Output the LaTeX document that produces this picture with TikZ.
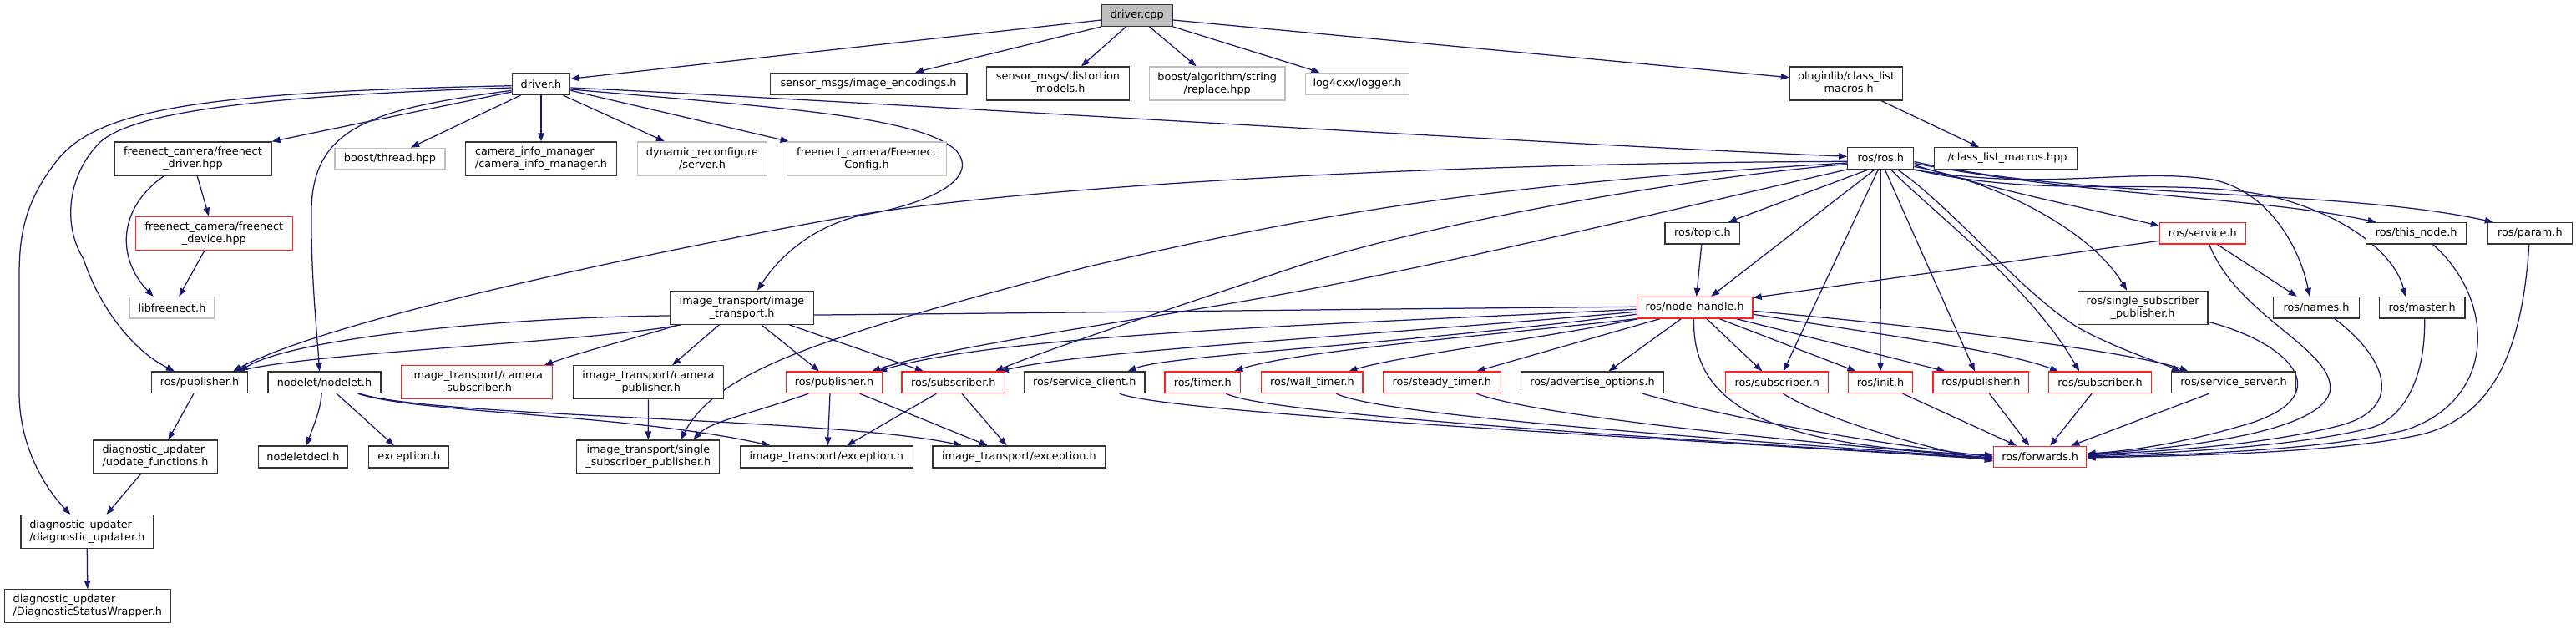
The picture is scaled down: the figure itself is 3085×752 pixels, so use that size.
\documentclass[tikz,border=0pt]{standalone}
\usepackage{fontspec}
\setmainfont{DejaVu Sans}
\usetikzlibrary{arrows.meta}
\definecolor{edgec}{HTML}{191970}
\definecolor{nodeb}{HTML}{333333}
\definecolor{grayb}{HTML}{BFBFBF}
\definecolor{redb}{HTML}{FF2020}
\definecolor{cppfill}{HTML}{BFBFBF}
\newcommand\nfont{\fontsize{12.8pt}{15pt}\selectfont}
\pgfdeclarelayer{bg}
\pgfdeclarelayer{edgelayer}
\pgfsetlayers{bg,edgelayer,main}
\tikzset{
  e/.style={draw=edgec, line width=1.25pt, -{Triangle[length=10pt,width=7.5pt]}},
  nb/.style={draw=nodeb, fill=white, line width=1.3pt, inner sep=0pt, font=\nfont, align=center, minimum height=25.5pt},
  ng/.style={nb, draw=grayb},
  nr/.style={nb, draw=redb},
  dbl/.style={minimum height=40pt},
}
\begin{document}
\begin{tikzpicture}[x=1pt,y=-1pt]
\begin{pgfonlayer}{bg}
\fill[white] (0,0) rectangle (3085,752);
\end{pgfonlayer}
\useasboundingbox (0,0) rectangle (3085,752);
% nodes
\node[nb, fill=cppfill, minimum width=84.7pt, minimum height=26pt] (cpp) at (1361.7,18.3) {driver.cpp};
\node[nb, minimum width=69.4pt] (driverh) at (648,100.7) {driver.h};
\node[nb, minimum width=235.7pt, minimum height=26pt] (enc) at (1040,100.3) {sensor\_msgs/image\_encodings.h};
\node[nb, dbl, minimum width=171pt] (dist) at (1267,100) {sensor\_msgs/distortion\\\_models.h};
\node[ng, dbl, minimum width=162.3pt] (repl) at (1457.7,100) {boost/algorithm/string\\/replace.hpp};
\node[ng, minimum width=124.5pt, minimum height=26pt] (log) at (1625.5,100.3) {log4cxx/logger.h};
\node[nb, dbl, minimum width=135.2pt] (plug) at (2211,100) {pluginlib/class\_list\\\_macros.h};
\node[nb, minimum width=171pt] (clm) at (2402,189.5) {./class\_list\_macros.hpp};
\node[nb, minimum width=79pt] (ros) at (2252.3,189.5) {ros/ros.h};
\node[nb, dbl, minimum width=188pt] (fdrv) at (231,190) {freenect\_camera/freenect\\\_driver.hpp};
\node[ng, minimum width=132pt] (bthr) at (467,190) {boost/thread.hpp};
\node[nb, dbl, align=left, minimum width=181pt] (cim) at (648,190) {camera\_info\_manager\\/camera\_info\_manager.h};
\node[ng, dbl, minimum width=154.6pt] (dyn) at (841,190) {dynamic\_reconfigure\\/server.h};
\node[ng, dbl, minimum width=191.4pt] (fcfg) at (1038,190) {freenect\_camera/Freenect\\Config.h};
\node[nr, dbl, minimum width=188.3pt] (fdev) at (256.4,279.3) {freenect\_camera/freenect\\\_device.hpp};
\node[ng, minimum width=101pt] (libf) at (206,368.3) {libfreenect.h};
\node[nb, minimum width=114.8pt] (pubA) at (239,457.8) {ros/publisher.h};
\node[nb, minimum width=135.2pt] (nodelet) at (388.5,457.8) {nodelet/nodelet.h};
\node[nr, dbl, minimum width=181pt] (csub) at (571,457.8) {image\_transport/camera\\\_subscriber.h};
\node[nb, dbl, minimum width=180.6pt] (cpub) at (776.5,457.8) {image\_transport/camera\\\_publisher.h};
\node[nb, dbl, minimum width=172pt] (itr) at (888.5,368.3) {image\_transport/image\\\_transport.h};
\node[nr, minimum width=115.3pt] (pubB) at (999,457.8) {ros/publisher.h};
\node[nr, minimum width=123.5pt] (subB) at (1141.8,457.8) {ros/subscriber.h};
\node[nb, minimum width=144.4pt] (scli) at (1298.7,457.8) {ros/service\_client.h};
\node[nr, minimum width=90.8pt] (timer) at (1440.3,457.8) {ros/timer.h};
\node[nr, minimum width=121.4pt] (wall) at (1571.4,457.8) {ros/wall\_timer.h};
\node[nr, minimum width=141.3pt] (steady) at (1726.8,457.8) {ros/steady\_timer.h};
\node[nb, minimum width=171pt] (adv) at (1906.9,457.8) {ros/advertise\_options.h};
\node[nr, minimum width=123pt] (subC) at (2128.3,457.8) {ros/subscriber.h};
\node[nr, minimum width=77.5pt] (init) at (2252,457.8) {ros/init.h};
\node[nr, minimum width=114.7pt] (pubC) at (2372.4,457.8) {ros/publisher.h};
\node[nr, minimum width=122.7pt] (subD) at (2515,457.8) {ros/subscriber.h};
\node[nb, minimum width=149.2pt] (ssrv) at (2675,457.8) {ros/service\_server.h};
\node[nb, minimum width=89.8pt] (topic) at (2038.8,279.3) {ros/topic.h};
\node[nr, minimum width=138.8pt] (nh) at (2029.6,368.3) {ros/node\_handle.h};
\node[nr, minimum width=102.7pt] (srv) at (2637.8,279.3) {ros/service.h};
\node[nb, minimum width=119.7pt] (thisn) at (2893.6,279.3) {ros/this\_node.h};
\node[nb, minimum width=100.7pt] (param) at (3029.8,279.3) {ros/param.h};
\node[nb, dbl, minimum width=155.7pt] (rssp) at (2566.1,368.3) {ros/single\_subscriber\\\_publisher.h};
\node[nb, minimum width=102.7pt] (names) at (2774,368.3) {ros/names.h};
\node[nb, minimum width=102.7pt] (master) at (2900.6,368.3) {ros/master.h};
\node[nr, minimum width=111.2pt] (fwd) at (2443.2,547) {ros/forwards.h};
\node[nb, dbl, align=left, minimum width=148.5pt] (updf) at (186,547) {diagnostic\_updater\\/update\_functions.h};
\node[nb, minimum width=107.6pt, minimum height=26pt] (ndecl) at (363,547) {nodeletdecl.h};
\node[nb, minimum width=96pt, minimum height=26pt] (exc) at (489.8,547) {exception.h};
\node[nb, dbl, align=left, minimum width=158.7pt] (dupd) at (104.3,636.5) {diagnostic\_updater\\/diagnostic\_updater.h};
\node[nb, dbl, align=left, minimum width=198.4pt] (dsw) at (104.8,725.8) {diagnostic\_updater\\/DiagnosticStatusWrapper.h};
\node[nb, dbl, minimum width=171pt] (itssp) at (776.3,547) {image\_transport/single\\\_subscriber\_publisher.h};
\node[nb, minimum width=207pt, minimum height=26pt] (iexA) at (989.8,547) {image\_transport/exception.h};
\node[nb, minimum width=207pt, minimum height=26pt] (iexB) at (1220.4,547) {image\_transport/exception.h};

\begin{pgfonlayer}{edgelayer}
% driver.cpp
\draw[e] ([yshift=-5.7pt]cpp.west) -- ([yshift=6.4pt]driverh.east);
\draw[e] (cpp.south west) -- ([xshift=56pt]enc.north);
\draw[e] ([xshift=-13.2pt]cpp.south) -- ([xshift=28pt]dist.north);
\draw[e] ([xshift=14.8pt]cpp.south) -- ([xshift=-25pt]repl.north);
\draw[e] (cpp.south east) -- ([xshift=-45pt]log.north);
\draw[e] ([yshift=-5.7pt]cpp.east) -- ([yshift=7.3pt]plug.west);
\draw[e] ([xshift=42pt]plug.south) -- ([xshift=-32pt]clm.north);
% driver.h
\draw[e] ([yshift=-4.3pt]driverh.east) .. controls (1100,125) and (1800,170) .. ([yshift=2.2pt]ros.west);
\draw[e] ([yshift=-6.3pt]driverh.east) .. controls (950,130) and (1100,140) .. (1145,180) .. controls (1175,215) and (1110,245) .. (1030,258) .. controls (960,275) and (925,320) .. ([xshift=18.5pt]itr.north);
\draw[e] ([yshift=-9.3pt]driverh.west) -- (fdrv.north east);
\draw[e] ([xshift=-24.5pt]driverh.south) -- ([xshift=25pt]bthr.north);
\draw[e] (driverh.south) -- (cim.north);
\draw[e] ([xshift=26.5pt]driverh.south) -- ([xshift=-45pt]dyn.north);
\draw[e] ([yshift=-7.6pt]driverh.east) -- ([xshift=3pt]fcfg.north west);
\draw[e] ([yshift=-4.3pt]driverh.west) .. controls (300,115) and (160,135) .. (120,170) .. controls (80,210) and (75,270) .. (100,310) .. controls (120,370) and (160,420) .. ([xshift=-30pt]pubA.north);
\draw[e] ([yshift=-2pt]driverh.west) .. controls (250,110) and (120,130) .. (70,190) .. controls (30,240) and (23,280) .. (23,330) -- (23,470) .. controls (23,530) and (50,580) .. ([xshift=-20pt]dupd.north);
\draw[e] ([yshift=-7.6pt]driverh.west) .. controls (450,130) and (375,150) .. (373,250) .. controls (372,330) and (380,400) .. ([xshift=-6pt]nodelet.north);
\draw[e] ([xshift=5.2pt]fdrv.south) -- ([xshift=-6.4pt]fdev.north);
\draw[e] ([xshift=-34.6pt]fdrv.south) .. controls (140,250) and (140,310) .. ([xshift=-22.3pt]libf.north);
\draw[e] ([xshift=-11.4pt]fdev.south) -- ([xshift=8.3pt]libf.north);
% ros.h
\draw[e] ([yshift=-3.8pt]ros.west) .. controls (1700,195) and (1200,225) .. (1000,262) .. controls (800,298) and (400,380) .. ([xshift=40pt]pubA.north);
\draw[e] ([yshift=-5.5pt]ros.west) .. controls (1800,220) and (1600,250) .. (1300,320) .. controls (1000,400) and (860,440) .. ([xshift=39pt]itssp.north);
\draw[e] ([yshift=-7pt]ros.west) .. controls (2000,215) and (1700,270) .. (1550,320) .. controls (1400,370) and (1250,420) .. ([xshift=50pt]subB.north);
\draw[e] (ros.south west) .. controls (2050,240) and (1800,300) .. (1600,340) .. controls (1400,380) and (1150,410) .. ([xshift=45pt]pubB.north);
\draw[e] ([xshift=-14.5pt]ros.south) -- ([xshift=31pt]topic.north);
\draw[e] ([xshift=-7pt]ros.south) -- ([xshift=19.5pt]nh.north);
\draw[e] ([xshift=-3pt]ros.south) -- ([xshift=7.5pt]subC.north);
\draw[e] (ros.south) -- (init.north);
\draw[e] ([xshift=5pt]ros.south) -- ([xshift=-7.5pt]pubC.north);
\draw[e] ([xshift=12pt]ros.south) .. controls (2310,250) and (2430,340) .. ([xshift=-25pt]subD.north);
\draw[e] ([xshift=20pt]ros.south) .. controls (2340,250) and (2420,350) .. (2490,393) .. controls (2540,420) and (2590,435) .. ([xshift=-64pt]ssrv.north);
\draw[e] ([yshift=-10pt]ros.east) .. controls (2380,215) and (2500,270) .. ([xshift=-19pt]rssp.north);
\draw[e] ([yshift=-8pt]ros.east) .. controls (2380,225) and (2480,245) .. ([yshift=9pt]srv.west);
\draw[e] ([xshift=-2pt]ros.south east) .. controls (2450,230) and (2550,200) .. (2650,215) .. controls (2720,230) and (2755,300) .. ([xshift=-8pt]names.north);
\draw[e] (ros.south east) .. controls (2450,240) and (2600,210) .. (2720,235) .. controls (2820,260) and (2870,310) .. ([xshift=-20pt]master.north);
\draw[e] ([yshift=-6pt]ros.east) .. controls (2500,235) and (2700,235) .. ([xshift=-48pt]thisn.north);
\draw[e] ([yshift=-4pt]ros.east) .. controls (2500,240) and (2800,225) .. ([xshift=-44pt]param.north);
% service.h, topic.h
\draw[e] ([yshift=-9pt]srv.west) -- ([yshift=-1.5pt]nh.north east);
\draw[e] ([xshift=17.7pt]srv.south) -- ([xshift=-23.3pt]names.north);
\draw[e] ([xshift=8pt]srv.south) .. controls (2680,380) and (2800,420) .. (2790,470) .. controls (2775,520) and (2600,537) .. ([yshift=3pt]fwd.east);
\draw[e] ([xshift=-1pt]topic.south) -- ([xshift=2pt]nh.north);
% node_handle.h
\draw[e] ([yshift=1pt]nh.west) .. controls (1600,370) and (1000,378) .. (800,378) .. controls (600,380) and (350,405) .. ([xshift=48pt]pubA.north);
\draw[e] ([yshift=-2pt]nh.west) .. controls (1600,388) and (1200,400) .. ([xshift=53pt]pubB.north);
\draw[e] ([yshift=-5pt]nh.west) .. controls (1600,405) and (1300,420) .. ([xshift=56pt]subB.north);
\draw[e] ([yshift=-8pt]nh.west) .. controls (1650,415) and (1400,425) .. ([xshift=52pt]scli.north);
\draw[e] (nh.south west) .. controls (1800,400) and (1550,420) .. ([xshift=38pt]timer.north);
\draw[e] ([xshift=2pt]nh.south west) .. controls (1850,405) and (1680,425) .. ([xshift=44pt]wall.north);
\draw[e] ([xshift=-41.8pt]nh.south) -- ([xshift=41.6pt]steady.north);
\draw[e] ([xshift=-16.3pt]nh.south) -- ([xshift=19.6pt]adv.north);
\draw[e] ([xshift=14.3pt]nh.south) -- ([xshift=-18pt]subC.north);
\draw[e] ([xshift=29.6pt]nh.south) -- ([xshift=-29.6pt]init.north);
\draw[e] ([xshift=50pt]nh.south) -- ([xshift=-42.8pt]pubC.north);
\draw[e] ([yshift=-8pt]nh.east) .. controls (2250,400) and (2400,420) .. ([xshift=-50pt]subD.north);
\draw[e] ([yshift=-4pt]nh.east) .. controls (2300,390) and (2550,420) .. ([xshift=-54.5pt]ssrv.north);
\draw[e] ([xshift=-1pt]nh.south) .. controls (2025,500) and (2150,535) .. ([yshift=2pt]fwd.west);
% into forwards.h from the left and top
\draw[e] ([xshift=42pt]scli.south) .. controls (1400,495) and (2000,525) .. ([yshift=-3pt]fwd.west);
\draw[e] ([xshift=28pt]timer.south) .. controls (1520,497) and (2000,525) .. ([yshift=-2.5pt]fwd.west);
\draw[e] ([xshift=29pt]wall.south) .. controls (1650,497) and (2050,525) .. ([yshift=-2pt]fwd.west);
\draw[e] ([xshift=41.6pt]steady.south) .. controls (1830,495) and (2100,525) .. ([yshift=-1pt]fwd.west);
\draw[e] ([xshift=60.4pt]adv.south) .. controls (2050,495) and (2200,525) .. (fwd.west);
\draw[e] ([xshift=7pt]subC.south) .. controls (2180,500) and (2300,535) .. ([yshift=-5pt]fwd.west);
\draw[e] ([xshift=26.6pt]init.south) -- ([xshift=-28pt]fwd.north);
\draw[e] ([xshift=10pt]pubC.south) -- ([xshift=-13pt]fwd.north);
\draw[e] ([xshift=-10pt]subD.south) -- ([xshift=12pt]fwd.north);
\draw[e] ([xshift=-29.5pt]ssrv.south) -- ([xshift=37pt]fwd.north);
% into forwards.h from the right
\draw[e] ([yshift=-17pt]rssp.east) .. controls (2740,410) and (2800,470) .. (2700,505) .. controls (2620,530) and (2550,540) .. ([yshift=4pt]fwd.east);
\draw[e] ([xshift=22pt]names.south) .. controls (2860,430) and (2880,490) .. (2800,510) .. controls (2700,535) and (2580,540) .. ([yshift=2pt]fwd.east);
\draw[e] ([xshift=3pt]master.south) .. controls (2905,450) and (2880,500) .. (2840,512) .. controls (2750,535) and (2600,542) .. ([yshift=1pt]fwd.east);
\draw[e] ([xshift=20pt]thisn.south) .. controls (2990,360) and (2990,480) .. (2880,515) .. controls (2780,540) and (2600,545) .. (fwd.east);
\draw[e] ([xshift=-1pt]param.south) .. controls (3020,430) and (2980,500) .. (2900,520) .. controls (2800,543) and (2600,546) .. ([yshift=-1pt]fwd.east);
% image_transport.h
\draw[e] ([xshift=-73pt]itr.south) .. controls (700,410) and (400,420) .. ([xshift=44pt]pubA.north);
\draw[e] ([xshift=-76pt]itr.south) .. controls (760,405) and (700,420) .. ([xshift=81pt]csub.north);
\draw[e] ([xshift=-27.3pt]itr.south) -- ([xshift=28.6pt]cpub.north);
\draw[e] ([xshift=23.5pt]itr.south) -- ([xshift=-18pt]pubB.north);
\draw[e] ([xshift=57pt]itr.south) -- ([xshift=-36pt]subB.north);
% publisher / subscriber (red)
\draw[e] ([xshift=-30.6pt]pubB.south) .. controls (900,495) and (850,505) .. ([xshift=54pt]itssp.north);
\draw[e] ([xshift=-5pt]pubB.south) -- ([xshift=1.5pt]iexA.north);
\draw[e] ([xshift=30.6pt]pubB.south) -- ([xshift=-37.7pt]iexB.north);
\draw[e] ([xshift=-20.4pt]subB.south) -- ([xshift=24.5pt]iexA.north);
\draw[e] ([xshift=10pt]subB.south) -- ([xshift=-14.8pt]iexB.north);
% nodelet
\draw[e] ([xshift=-3.3pt]nodelet.south) .. controls (383,495) and (375,510) .. ([xshift=4.3pt]ndecl.north);
\draw[e] ([xshift=14.5pt]nodelet.south) -- ([xshift=-17.9pt]exc.north);
\draw[e] ([xshift=40pt]nodelet.south) .. controls (500,495) and (750,495) .. ([xshift=-67.4pt]iexA.north);
\draw[e] ([xshift=42pt]nodelet.south) .. controls (520,500) and (1000,500) .. ([xshift=-68.4pt]iexB.north);
% others
\draw[e] (cpub.south) -- (itssp.north);
\draw[e] ([xshift=-7pt]pubA.south) -- ([xshift=15.5pt]updf.north);
\draw[e] ([xshift=-17.6pt]updf.south) -- ([xshift=23.3pt]dupd.north);
\draw[e] (dupd.south) -- (dsw.north);
\end{pgfonlayer}
\end{tikzpicture}
\end{document}
